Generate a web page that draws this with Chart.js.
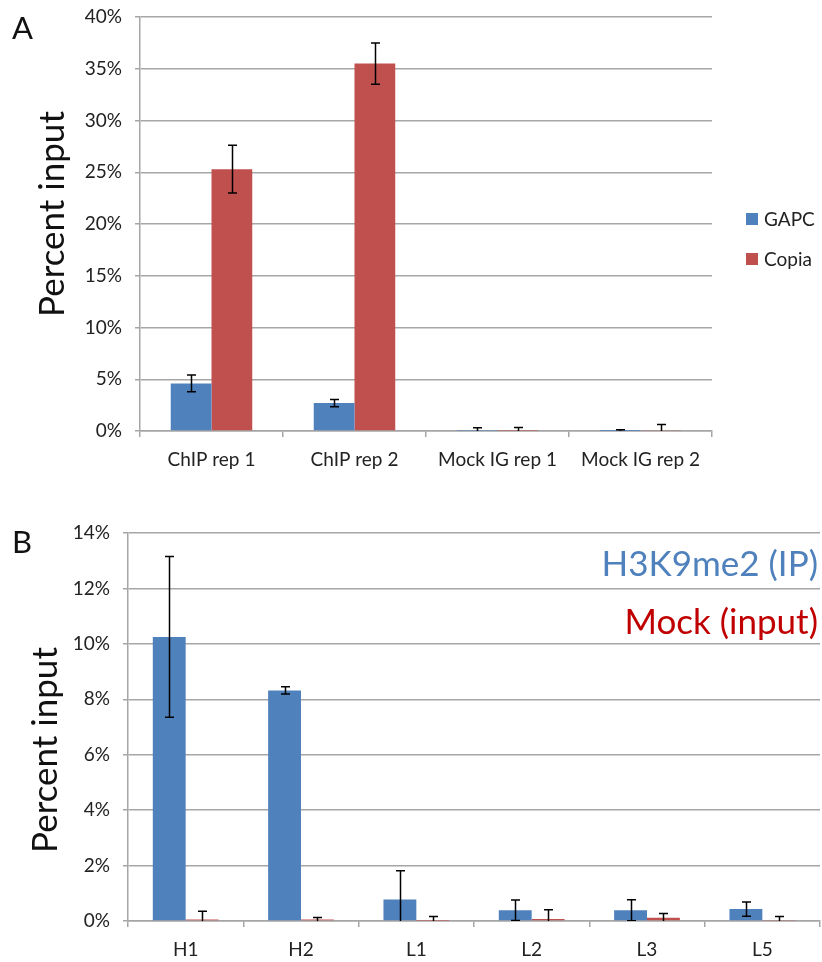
<!DOCTYPE html>
<html>
<head>
<meta charset="utf-8">
<script src="https://cdn.jsdelivr.net/npm/chart.js@4.4.1/dist/chart.umd.min.js"></script>
<style>
  body { margin: 0; background: #fff; }
  .wrap { position: absolute; left: 0; width: 822px; }
  .panel { position: absolute; left: 12px; font: 31px Lato, sans-serif; color: #111; }
</style>
</head>
<body>
<div class="wrap" style="top:0;height:480px"><canvas id="chartA" width="822" height="480"></canvas></div>
<div class="wrap" style="top:480px;height:482px"><canvas id="chartB" width="822" height="482"></canvas></div>
<div class="panel" style="top:8px">A</div>
<div class="panel" style="top:522px">B</div>
<script>
const panelACategories = ["ChIP rep 1", "ChIP rep 2", "Mock IG rep 1", "Mock IG rep 2"];
const gapcValues = [4.6, 2.7, 0.02, 0.01];
const gapcErrors = [0.8, 0.35, 0.3, 0.12];
const copiaValues = [25.3, 35.5, 0.03, 0.04];
const copiaErrors = [2.3, 2.0, 0.3, 0.6];

const panelBCategories = ["H1", "H2", "L1", "L2", "L3", "L5"];
const ipValues = [10.25, 8.32, 0.78, 0.39, 0.39, 0.43];
const ipErrors = [2.9, 0.13, 1.03, 0.37, 0.38, 0.26];
const mockValues = [0.05, 0.05, 0.01, 0.07, 0.12, 0.02];
const mockErrors = [0.3, 0.08, 0.15, 0.34, 0.15, 0.14];

const BLUE = "#4F81BD";
const RED = "#C0504D";
const GRID = "#a6a6a6";
const FONT = "Lato";

Chart.defaults.font.family = FONT;
Chart.defaults.color = "#222";

// error bars, drawn from each dataset's "errors" array
const errorBars = {
  id: "errorBars",
  afterDatasetsDraw(chart) {
    const { ctx, chartArea, scales } = chart;
    ctx.save();
    ctx.beginPath();
    ctx.rect(chartArea.left, chartArea.top - 2, chartArea.width, chartArea.height + 2);
    ctx.clip();
    ctx.strokeStyle = "#000";
    ctx.lineWidth = 1.5;
    chart.data.datasets.forEach((ds, i) => {
      chart.getDatasetMeta(i).data.forEach((bar, j) => {
        const v = ds.data[j], e = ds.errors[j];
        const yTop = scales.y.getPixelForValue(v + e);
        const yBot = scales.y.getPixelForValue(v - e);
        const x = Math.round(bar.x) + 0.5;
        ctx.beginPath();
        ctx.moveTo(x, yTop); ctx.lineTo(x, yBot);
        ctx.moveTo(x - 4.5, yTop); ctx.lineTo(x + 4.5, yTop);
        ctx.moveTo(x - 4.5, yBot); ctx.lineTo(x + 4.5, yBot);
        ctx.stroke();
      });
    });
    ctx.restore();
  }
};

// rotated y title, placed a little above the axis middle as in the original
const yTitle = {
  id: "yTitle",
  afterDraw(chart, args, opts) {
    const { ctx } = chart;
    ctx.save();
    ctx.translate(opts.x, opts.y);
    ctx.rotate(-Math.PI / 2);
    ctx.font = "35px " + FONT;
    ctx.fillStyle = "#111";
    ctx.textAlign = "center";
    ctx.textBaseline = "middle";
    ctx.fillText("Percent input", 0, 0);
    ctx.restore();
  }
};

// legend for panel A: squares + labels at the right
const squareLegend = {
  id: "squareLegend",
  afterDraw(chart) {
    const { ctx } = chart;
    ctx.save();
    ctx.font = "19px " + FONT;
    ctx.textBaseline = "middle";
    chart.data.datasets.forEach((ds, i) => {
      const y = 219 + i * 40;
      ctx.fillStyle = ds.backgroundColor;
      ctx.fillRect(746, y - 6, 12, 12);
      ctx.fillStyle = "#222";
      ctx.fillText(ds.label, 764, y + 1);
    });
    ctx.restore();
  }
};

// legend for panel B: coloured text inside the plot
const textLegend = {
  id: "textLegend",
  afterDraw(chart) {
    const { ctx, chartArea } = chart;
    ctx.save();
    ctx.font = "35px " + FONT;
    ctx.textAlign = "right";
    ctx.textBaseline = "middle";
    const colors = [BLUE, "#C00000"];
    chart.data.datasets.forEach((ds, i) => {
      ctx.fillStyle = colors[i];
      ctx.fillText(ds.label, chartArea.right - 2, chartArea.top + 32 + i * 58);
    });
    ctx.restore();
  }
};

const axes = (max, step, yWidth, xHeight) => ({
  x: {
    grid: { drawOnChartArea: false, offset: true, tickLength: 6, color: GRID, lineWidth: 1.5 },
    border: { color: GRID, width: 1.5 },
    ticks: { font: { size: 19 }, padding: 11, maxRotation: 0, autoSkip: false },
    afterFit: s => { s.height = xHeight; }
  },
  y: {
    min: 0, max,
    ticks: { stepSize: step, font: { size: 19 }, padding: 13, callback: v => v + "%" },
    grid: { color: GRID, lineWidth: 1.5, tickLength: 5 },
    border: { color: GRID, width: 1.5 },
    afterFit: s => { s.width = yWidth; s.paddingTop = 0; s.paddingBottom = 0; }
  }
});

const barSet = (label, data, errors, color) => ({
  label, data, errors,
  backgroundColor: color,
  borderColor: color,
  borderWidth: 0,
  barPercentage: 1,
  categoryPercentage: 0.57
});

new Chart("chartA", {
  type: "bar",
  data: {
    labels: panelACategories,
    datasets: [
      barSet("GAPC", gapcValues, gapcErrors, BLUE),
      barSet("Copia", copiaValues, copiaErrors, RED)
    ]
  },
  options: {
    responsive: false,
    animation: false,
    layout: { padding: { left: 32, right: 110, top: 17, bottom: 0 } },
    plugins: {
      legend: { display: false },
      tooltip: { enabled: false },
      yTitle: { x: 53, y: 214 }
    },
    scales: axes(40, 5, 108, 49)
  },
  plugins: [errorBars, squareLegend, yTitle]
});

new Chart("chartB", {
  type: "bar",
  data: {
    labels: panelBCategories,
    datasets: [
      barSet("H3K9me2 (IP)", ipValues, ipErrors, BLUE),
      barSet("Mock (input)", mockValues, mockErrors, RED)
    ]
  },
  options: {
    responsive: false,
    animation: false,
    layout: { padding: { left: 25, right: 2, top: 53, bottom: 0 } },
    plugins: {
      legend: { display: false },
      tooltip: { enabled: false },
      yTitle: { x: 46, y: 270 }
    },
    scales: axes(14, 2, 103, 41)
  },
  plugins: [errorBars, textLegend, yTitle]
});
</script>
</body>
</html>
